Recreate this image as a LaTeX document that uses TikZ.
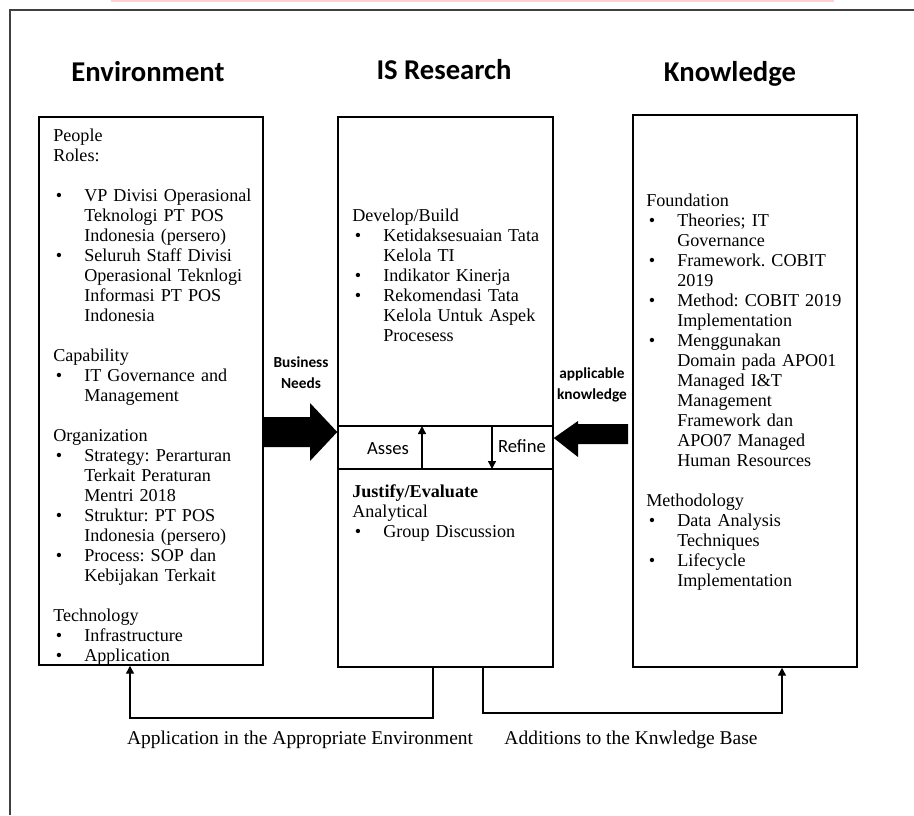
\documentclass[tikz,border=0pt]{standalone}
\usepackage{fontspec}
\setmainfont{Liberation Serif}
\newfontfamily\carlito{Carlito}
\usetikzlibrary{arrows.meta}
\frenchspacing
\newcommand\bodyfont{\fontsize{13.6}{15}\selectfont}
\newcommand\bitem[1]{\par\hangindent=23.25pt\hangafter=1\noindent\makebox[23.25pt][l]{\hspace{2pt}\textbullet}#1}
\newcommand\hd[1]{\par\noindent#1}
\newcommand\blankline{\par\vspace{15pt}}
\tikzset{
  box/.style={draw, line width=1.1pt, inner sep=0pt},
  body/.style={anchor=north west, inner sep=0pt, text width=190pt, align=left, font=\bodyfont},
  heading/.style={anchor=base, inner sep=0pt, font=\carlito\bfseries\fontsize{21.5}{24}\selectfont},
  small/.style={inner sep=0pt, align=center, font=\carlito\bfseries\fontsize{11.5}{15.75}\selectfont},
  bandtxt/.style={inner sep=0pt, font=\carlito\fontsize{14}{16}\selectfont},
  conn/.style={line width=1.1pt, -{Triangle[length=6pt,width=6pt]}},
  blockarrow/.style={fill=black, draw=none},
  bottomlbl/.style={inner sep=0pt, font=\fontsize{14.6}{17}\selectfont}
}
\begin{document}
\begin{tikzpicture}[x=0.75pt, y=-0.75pt]
\useasboundingbox (0,0) rectangle (914,815);
% top strip and outer frame
\fill[red!18] (111,0) rectangle (834,2);
\draw[line width=1.8pt, black!75] (10,815) -- (10,10) -- (914,10);

% headings
\node[heading] (hEnv) at (148,81) {Environment};
\node[heading] (hIS) at (444,79) {IS Research};
\node[heading] (hKn) at (730,81) {Knowledge};

% boxes
\node[box, minimum width=168pt, minimum height=411pt] (env) at (151,391) {};
\node[box, minimum width=161.25pt, minimum height=412.5pt] (isr) at (445.5,392) {};
\node[box, minimum width=168pt, minimum height=414pt] (know) at (745,391) {};

% band in IS research box
\coordinate (bt) at (0,426);
\coordinate (bb) at (0,469);
\draw[line width=1.1pt] (isr.west |- bt) -- (isr.east |- bt);
\draw[line width=1.1pt] (isr.west |- bb) -- (isr.east |- bb);
\coordinate (assB) at (422,469);
\coordinate (assT) at (422,426);
\coordinate (refT) at (492,426);
\coordinate (refB) at (492,469);
\draw[conn] (assB) -- (assT);
\draw[conn] (refT) -- (refB);
\node[bandtxt] (asses) at (388,449) {Asses};
\node[bandtxt] (refine) at (522,446) {Refine};

% environment text
\node[body] (envtxt) at (53,121) {\raggedright\frenchspacing
\hd{\strut People}
\hd{Roles:}
\blankline
\bitem{VP Divisi Operasional\newline Teknologi PT POS\newline Indonesia (persero)}
\bitem{Seluruh Staff Divisi\newline Operasional Teknlogi\newline Informasi PT POS\newline Indonesia}
\blankline
\hd{Capability}
\bitem{IT Governance and\newline Management}
\blankline
\hd{Organization}
\bitem{Strategy: Perarturan\newline Terkait Peraturan\newline Mentri 2018}
\bitem{Struktur: PT POS\newline Indonesia (persero)}
\bitem{Process: SOP dan\newline Kebijakan Terkait}
\blankline
\hd{Technology}
\bitem{Infrastructure}
\bitem{Application}\par};

% IS research texts
\node[body] (devtxt) at (352,201) {\raggedright\frenchspacing
\hd{\strut Develop/Build}
\bitem{Ketidaksesuaian Tata\newline Kelola TI}
\bitem{Indikator Kinerja}
\bitem{Rekomendasi Tata\newline Kelola Untuk Aspek\newline Procesess}\par};
\node[body] (justtxt) at (352,477) {\raggedright\frenchspacing
\hd{\strut\textbf{Justify/Evaluate}}
\hd{Analytical}
\bitem{Group Discussion}\par};

% knowledge text
\node[body] (kntxt) at (646,186) {\raggedright\frenchspacing
\hd{\strut Foundation}
\bitem{Theories; IT\newline Governance}
\bitem{Framework. COBIT\newline 2019}
\bitem{Method: COBIT 2019\newline Implementation}
\bitem{Menggunakan\newline Domain pada APO01\newline Managed I\&T\newline Management\newline Framework dan\newline APO07 Managed\newline Human Resources}
\blankline
\hd{Methodology}
\bitem{Data Analysis\newline Techniques}
\bitem{Lifecycle\newline Implementation}\par};

% block arrows
\fill[blockarrow] (env.east |- 0,417) -- (310,417) -- (310,403) -- (isr.west |- 0,432) -- (310,461) -- (310,447) -- (env.east |- 0,447) -- cycle;
\fill[blockarrow] (628,424) -- (578,424) -- (578,421) -- (isr.east |- 0,438) -- (578,457) -- (578,444) -- (628,444) -- cycle;
\node[small] (bneeds) at (301,372.5) {Business\\Needs};
\node[small] (aknow) at (592,385) {applicable\\knowledge};

% bottom connectors
\coordinate (l1) at (433,718);
\coordinate (l2) at (130,718);
\coordinate (r1) at (483,713);
\coordinate (r2) at (782,713);
\draw[conn] (isr.south -| l1) -- (l1) -- (l2) -- (env.south -| l2);
\draw[conn] (isr.south -| r1) -- (r1) -- (r2) -- (know.south -| r2);
\node[bottomlbl] (appl) at (300,740) {Application in the Appropriate Environment};
\node[bottomlbl] (addk) at (631,740) {Additions to the Knwledge Base};
\end{tikzpicture}
\end{document}
